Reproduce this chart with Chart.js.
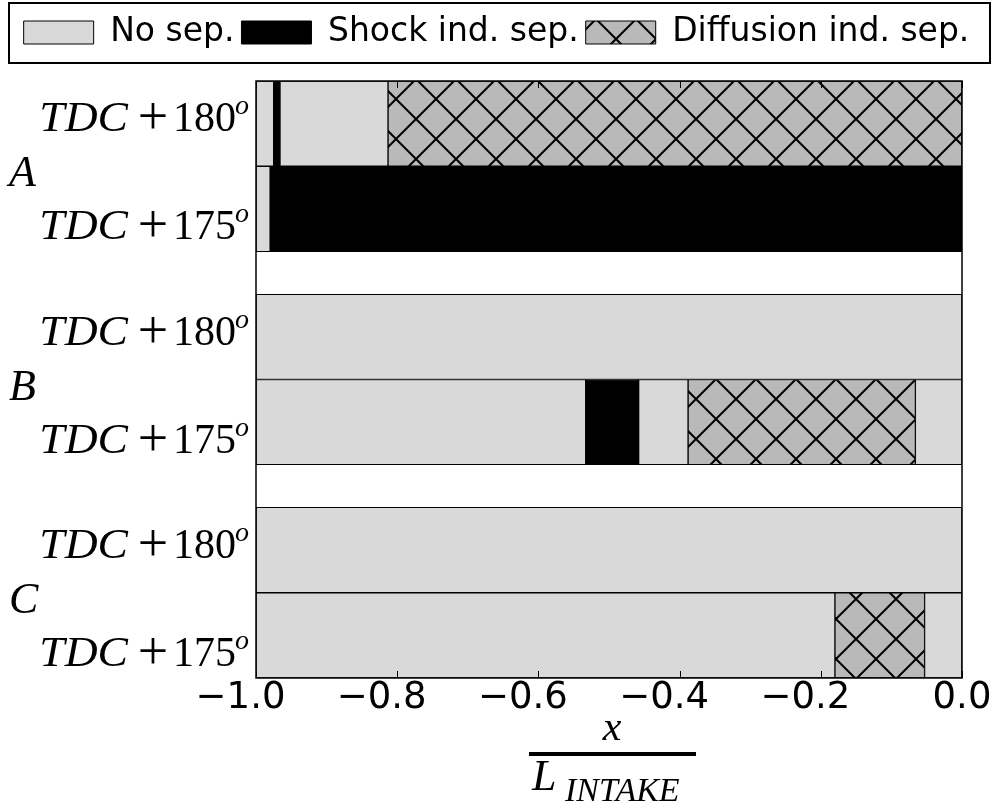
<!DOCTYPE html>
<html>
<head>
<meta charset="utf-8">
<title>Separation regimes along the intake</title>
<script src="https://cdn.jsdelivr.net/npm/chart.js@4.4.1/dist/chart.umd.min.js"></script>
<style>
	html, body { margin: 0; padding: 0; background: #fff; }
	canvas { display: block; }
</style>
</head>
<body>
<canvas id="chartSeparation" width="993" height="808"></canvas>
<script>
'use strict'

const regimes = ['No sep.', 'Shock ind. sep.', 'Diffusion ind. sep.'];
const groups = ['A', 'B', 'C'];
const crankAngles = ['180', '175']; // degrees after TDC, one bar row each

// x / L_INTAKE where the regime changes (left to right) and the regime index of each span
const edgesA180 = [-1.0, -0.975, -0.966, -0.813, 0.0];
const regimeA180 = [0, 1, 0, 2];
const edgesA175 = [-1.0, -0.980, 0.0];
const regimeA175 = [0, 1];
const edgesB180 = [-1.0, 0.0];
const regimeB180 = [0];
const edgesB175 = [-1.0, -0.533, -0.458, -0.388, -0.066, 0.0];
const regimeB175 = [0, 1, 0, 2, 0];
const edgesC180 = [-1.0, 0.0];
const regimeC180 = [0];
const edgesC175 = [-1.0, -0.180, -0.053, 0.0];
const regimeC175 = [0, 2, 0];

const rows = [
	[edgesA180, regimeA180], [edgesA175, regimeA175],
	[edgesB180, regimeB180], [edgesB175, regimeB175],
	[edgesC180, regimeC180], [edgesC175, regimeC175],
];

const colors = {
	none: '#d9d9d9',
	shock: '#000000',
	diffusion: '#b9b9b9',
	edge: '#000000',
	text: '#000000',
};

// two rows per group, half a row of space between groups
const groupGap = 0.5;
function rowPosition(r) {
	const g = Math.floor(r / crankAngles.length);
	return g * (crankAngles.length + groupGap) + (r % crankAngles.length) + 0.5;
}
function groupCenter(g) {
	return g * (crankAngles.length + groupGap) + crankAngles.length / 2;
}

let ctx = document.getElementById('chartSeparation').getContext('2d');

// cross hatch for the diffusion induced separation
function crossHatch() {
	const tile = document.createElement('canvas');
	tile.width = 40;
	tile.height = 40;
	const t = tile.getContext('2d');
	t.fillStyle = colors.diffusion;
	t.fillRect(0, 0, 40, 40);
	t.strokeStyle = '#000';
	t.lineWidth = 2;
	t.beginPath();
	for (let k = -1; k <= 1; k++) {
		t.moveTo(k * 40 - 5, -5);
		t.lineTo(k * 40 + 45, 45);
		t.moveTo(k * 40 - 5, 45);
		t.lineTo(k * 40 + 45, -5);
	}
	t.stroke();
	const pattern = ctx.createPattern(tile, 'repeat');
	pattern.setTransform(new DOMMatrix().translate(36, 19));
	return pattern;
}

const fills = [colors.none, colors.shock, crossHatch()];

const datasets = regimes.map((label, k) => ({
	label: label,
	data: [],
	backgroundColor: fills[k],
	borderColor: colors.edge,
	borderWidth: 1,
	borderSkipped: false,
}));

rows.forEach(([edges, kinds], r) => {
	const y = rowPosition(r);
	kinds.forEach((k, i) => {
		datasets[k].data.push({ x: [edges[i], edges[i + 1]], y: y });
	});
});

function drawCaseLabel(c, angle, right, base) {
	c.textBaseline = 'alphabetic';
	c.font = 'italic 28px "Liberation Serif"';
	c.textAlign = 'right';
	c.fillText('o', right, base - 17);
	const oWidth = c.measureText('o').width;

	c.font = '42px "Liberation Serif"';
	const numRight = right - oWidth + 1;
	c.fillText(angle, numRight, base);
	const numWidth = c.measureText(angle).width;

	c.font = '54px "Liberation Serif"';
	c.textAlign = 'center';
	const plusX = numRight - numWidth - 20;
	c.fillText('+', plusX, base + 3);

	// TDC set a little wider, like the math italic it stands for
	c.font = 'italic 43px "Liberation Serif"';
	c.textAlign = 'right';
	c.save();
	c.translate(plusX - 25, base);
	c.scale(1.06, 1);
	c.fillText('TDC', 0, 0);
	c.restore();
}

const legendHeight = {
	id: 'legendHeight',
	beforeInit(chart) {
		const fit = chart.legend.fit;
		chart.legend.fit = function () {
			fit.call(this);
			this.height = 72;
		};
	},
};

const decorations = {
	id: 'decorations',
	afterDatasetsDraw(chart) {
		const c = chart.ctx;
		const a = chart.chartArea;
		const x = chart.scales.x;
		const y = chart.scales.y;
		c.save();

		// ticks pointing into the plot, top and bottom
		c.strokeStyle = colors.text;
		c.lineWidth = 1;
		c.beginPath();
		x.ticks.forEach(t => {
			const px = Math.round(x.getPixelForValue(t.value)) + 0.5;
			c.moveTo(px, a.bottom);
			c.lineTo(px, a.bottom - 7);
			c.moveTo(px, a.top);
			c.lineTo(px, a.top + 7);
		});
		c.stroke();

		c.lineWidth = 1.5;
		c.strokeRect(a.left, a.top, a.right - a.left, a.bottom - a.top);

		// row and group labels
		c.fillStyle = colors.text;
		groups.forEach((name, g) => {
			const mid = y.getPixelForValue(groupCenter(g));
			drawCaseLabel(c, crankAngles[0], a.left - 7, mid - 35);
			drawCaseLabel(c, crankAngles[1], a.left - 7, mid + 73);
			c.font = 'italic 44px "Liberation Serif"';
			c.textAlign = 'left';
			c.fillText(name, 9, mid + 20);
		});

		// x / L_INTAKE
		const cx = (a.left + a.right) / 2 + 3;
		c.font = 'italic 42px "Liberation Serif"';
		c.textAlign = 'center';
		c.fillText('x', cx, a.bottom + 62);
		c.fillRect(cx - 83, a.bottom + 74, 167, 4);
		c.textAlign = 'left';
		c.font = 'italic 44px "Liberation Serif"';
		c.fillText('L', cx - 80, a.bottom + 112);
		c.font = 'italic 34px "Liberation Serif"';
		c.fillText('INTAKE', cx - 47, a.bottom + 123);

		// frame round the legend
		const lg = chart.legend;
		c.lineWidth = 2;
		c.strokeRect(9, lg.top - 6, chart.width - 12, 60);

		c.restore();
	},
};

let chartSeparation = new Chart(ctx, {
	type: 'bar',
	data: { datasets: datasets },
	options: {
		indexAxis: 'y',
		responsive: false,
		animation: false,
		layout: {
			padding: { top: 9, left: 0, right: 0, bottom: 0 },
		},
		datasets: {
			bar: {
				grouped: false,
				categoryPercentage: 1,
				barPercentage: 1,
			},
		},
		plugins: {
			legend: {
				position: 'top',
				labels: {
					boxWidth: 70,
					boxHeight: 23,
					padding: 7,
					color: colors.text,
					font: { family: 'DejaVu Sans', size: 33 },
				},
			},
			tooltip: { enabled: false },
		},
		scales: {
			x: {
				type: 'linear',
				min: -1,
				max: 0,
				ticks: {
					stepSize: 0.2,
					padding: -2,
					maxRotation: 0,
					autoSkip: false,
					color: colors.text,
					font: { family: 'DejaVu Sans', size: 37 },
					callback: v => v < 0 ? '\u2212' + Math.abs(v).toFixed(1) + '\u2007\u2009' : v.toFixed(1),
				},
				grid: { display: false, drawTicks: false },
				border: { display: false },
				afterFit: s => {
					s.height = 130;
					s.paddingRight = 31;
				},
			},
			y: {
				type: 'linear',
				min: 0,
				max: 7,
				reverse: true,
				offset: false,
				afterBuildTicks: s => {
					s.ticks = groups.map((g, i) => ({ value: groupCenter(i) }));
				},
				ticks: { display: false },
				grid: { display: false, offset: false },
				border: { display: false },
				afterFit: s => {
					s.width = 256;
				},
			},
		},
	},
	plugins: [legendHeight, decorations],
});
</script>
</body>
</html>
